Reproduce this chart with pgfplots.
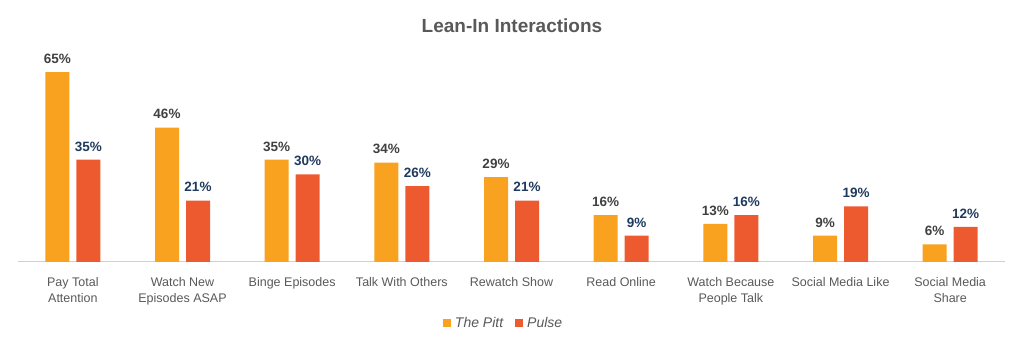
\documentclass[border=0pt]{standalone}
\usepackage{pgfplots}
\pgfplotsset{compat=1.18}
\usepackage{fontspec}
\setmainfont{Liberation Sans}
\definecolor{pitt}{HTML}{F8A21F}
\definecolor{pulse}{HTML}{EE5A2F}
\definecolor{lblgray}{HTML}{595959}
\definecolor{pittlbl}{HTML}{404040}
\definecolor{pulselbl}{HTML}{1F3A5F}
\definecolor{axisgray}{HTML}{D0D0D0}
\begin{document}
\begin{tikzpicture}[x=1pt,y=1pt]
\path (0,0) rectangle (1024,355);
\node[font=\fontsize{19}{22}\selectfont\bfseries, text=lblgray] at (512,329) {Lean-In Interactions};
\begin{axis}[
  at={(18pt,93pt)}, anchor=south west,
  scale only axis, width=987pt, height=204.6pt,
  ybar, bar width=24pt,
  ymin=0, ymax=70,
  xmin=-0.5, xmax=8.5,
  xtick=data,
  xticklabels={{Pay Total\\Attention},{Watch New\\Episodes ASAP},{Binge Episodes},{Talk With Others},{Rewatch Show},{Read Online},{Watch Because\\People Talk},{Social Media Like},{Social Media\\Share}},
  xticklabel style={align=center, font=\fontsize{12.5}{15.5}\selectfont, text=lblgray, yshift=-12pt},
  major tick length=0pt,
  ytick=\empty,
  axis x line=bottom, axis y line=none,
  x axis line style={axisgray, line width=1pt, -},
  nodes near coords={\bfseries\pgfmathprintnumber[assume math mode=true]{\pgfplotspointmeta}\%},
  nodes near coords style={font=\fontsize{13.5}{16}\selectfont\bfseries, yshift=5pt},
  legend style={at={(0.493,-0.298)}, anchor=center, draw=none, legend columns=2,
    font=\fontsize{14}{16}\selectfont\itshape, text=lblgray,
    nodes={inner xsep=4pt},
    /tikz/every even column/.append style={column sep=8pt}},
  legend image code/.code={\fill[#1] (0pt,-4pt) rectangle (8pt,4pt);},
  clip=false,
]
\addplot[fill=pitt, draw=none, bar shift=-15.5pt, nodes near coords style={text=pittlbl}] coordinates {(0,65) (1,46) (2,35) (3,34) (4,29) (5,16) (6,13) (7,9) (8,6)};
\addplot[fill=pulse, draw=none, bar shift=15.5pt, nodes near coords style={text=pulselbl}] coordinates {(0,35) (1,21) (2,30) (3,26) (4,21) (5,9) (6,16) (7,19) (8,12)};
\legend{The Pitt, Pulse}
\end{axis}
\end{tikzpicture}
\end{document}
